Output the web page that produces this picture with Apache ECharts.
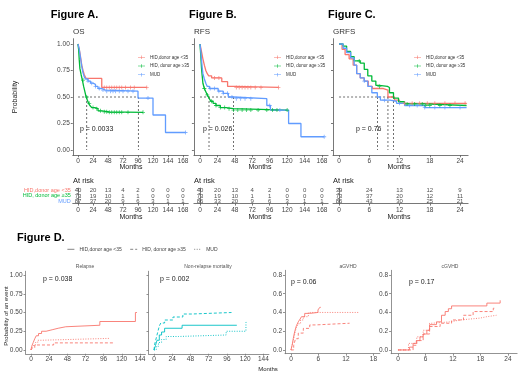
<!DOCTYPE html>
<html>
<head>
<meta charset="utf-8">
<script src="https://cdn.jsdelivr.net/npm/echarts@6/dist/echarts.min.js"></script>
<style>
    html, body { margin: 0; padding: 0; background: #fff; }
    #chart { width: 520px; height: 374px; }
</style>
</head>
<body>
<div id="chart"></div>
<script>
    // groups and colours
    var groups = ['HID,donor age <35', 'HID, donor age ≥35', 'MUD'];
    var groupColors = ['#F8766D', '#00BA38', '#619CFF'];

    // Figure A - OS, [month, survival]
    var osHidYoung = [[0,1],[2,0.95],[4,0.88],[6,0.8],[8,0.75],[10,0.71],[13,0.675],[38,0.59],[110,0.59]];
    var osHidOld = [[0,1],[1,0.95],[2,0.85],[3,0.77],[5,0.71],[7,0.66],[9,0.6],[11,0.55],[13,0.5],[15,0.47],[17,0.44],[19,0.42],[22,0.4],[27,0.39],[32,0.37],[38,0.36],[50,0.355],[104,0.355]];
    var osMud = [[0,1],[2,0.95],[4,0.87],[6,0.79],[8,0.73],[10,0.69],[12,0.67],[16,0.65],[20,0.63],[24,0.62],[28,0.6],[32,0.58],[38,0.565],[44,0.555],[96,0.49],[120,0.33],[140,0.165],[172,0.165]];
    var osCensor = [
        [42, 46, 50, 54, 58, 62, 66, 70, 76, 84, 90, 110],
        [8, 14, 18, 24, 30, 36, 42, 46, 50, 54, 58, 62, 66, 70, 80, 104],
        [16, 22, 28, 34, 40, 46, 52, 56, 60, 66, 72, 80, 88, 112, 172]
    ];
    var osMedians = [14, 96.5];

    // Figure B - RFS
    var rfsHidYoung = [[0,1],[2,0.93],[4,0.86],[6,0.8],[8,0.75],[10,0.72],[12,0.7],[16,0.68],[30,0.645],[38,0.6],[48,0.59],[108,0.59]];
    var rfsHidOld = [[0,1],[1,0.9],[2,0.78],[3,0.7],[4,0.63],[6,0.58],[8,0.55],[10,0.52],[12.4,0.49],[15,0.46],[18,0.44],[22,0.42],[28,0.4],[36,0.39],[46,0.377],[120,0.377]];
    var rfsMud = [[0,1],[1,0.94],[2,0.86],[3,0.78],[4,0.72],[6,0.67],[8,0.63],[10,0.6],[13,0.58],[25,0.555],[32,0.535],[39,0.5],[46,0.484],[92,0.42],[97,0.377],[122,0.25],[139,0.125],[171,0.125]];
    var rfsCensor = [
        [20, 26, 50, 54, 58, 62, 66, 70, 76, 84, 108],
        [6, 10, 16, 22, 28, 34, 40, 46, 52, 58, 64, 70, 80, 92, 100, 106, 120],
        [14, 20, 26, 32, 38, 44, 50, 56, 62, 70, 96, 110, 171]
    ];
    var rfsMedians = [12.4, 46];

    // Figure C - GRFS
    var grfsHidYoung = [[0,1],[0.6,0.95],[1.2,0.9],[2,0.86],[2.8,0.8],[3.5,0.72],[4.2,0.68],[5,0.65],[5.8,0.6],[6.6,0.58],[8.8,0.565],[9.7,0.5],[11,0.47],[12,0.44],[25.3,0.44]];
    var grfsHidOld = [[0,1],[0.8,0.98],[1.5,0.93],[2.3,0.88],[3,0.84],[4.2,0.82],[5,0.76],[5.7,0.7],[6.5,0.65],[7.3,0.61],[8,0.6],[9.6,0.59],[10,0.54],[10.8,0.49],[11.8,0.455],[13,0.435],[17,0.42],[25.3,0.415]];
    var grfsMud = [[0,1],[0.8,0.96],[1.5,0.92],[2.3,0.87],[3,0.8],[3.5,0.72],[4.2,0.68],[5,0.65],[5.7,0.6],[6.5,0.54],[7.6,0.5],[8.2,0.47],[10.1,0.46],[11.4,0.44],[13,0.42],[17,0.4],[25.3,0.395]];
    var grfsCensor = [
        [13, 14.5, 16, 17.5, 19, 21, 23, 25],
        [4, 8, 13.5, 15, 16.5, 17.2, 18, 20, 22],
        [5, 9, 12, 14, 15.5, 17, 19, 21, 24]
    ];
    var grfsMedians = [7.6, 9.7, 10.8];
    var medianLevel = 0.5;

    // numbers at risk
    var riskTimesLong = [0, 24, 48, 72, 96, 120, 144, 168];
    var riskOs = [[40,20,13,4,2,0,0,0], [73,19,10,1,1,0,0,0], [87,37,20,9,6,3,1,1]];
    var riskRfs = [[40,20,13,4,2,0,0,0], [73,19,10,1,1,0,0,0], [86,33,20,9,6,3,1,1]];
    var riskTimesShort = [0, 6, 12, 18, 24];
    var riskGrfs = [[39,24,13,12,9], [73,37,20,12,11], [86,43,30,25,21]];

    // Figure D - cumulative incidence, [month, probability]
    var relapseHidYoung = [[0,0],[1,0.05],[3,0.1],[5,0.15],[7,0.19],[10,0.22],[14,0.25],[20,0.27],[28,0.29],[36,0.31],[46,0.33],[91,0.38],[138,0.5],[140,0.5]];
    var relapseHidOld = [[0,0],[2,0.03],[5,0.067],[30,0.095],[109,0.095]];
    var relapseMud = [[0,0],[1,0.03],[3,0.06],[6,0.1],[9,0.13],[14,0.155],[104,0.155]];
    var nrmHidYoung = [[0,0],[2,0.06],[4,0.13],[7,0.2],[10,0.24],[14,0.29],[37,0.33],[109,0.33]];
    var nrmHidOld = [[0,0],[1,0.08],[3,0.16],[5,0.24],[7,0.32],[9,0.36],[14,0.4],[25,0.44],[38,0.48],[50,0.5],[102,0.5]];
    var nrmMud = [[0,0],[3,0.05],[6,0.1],[10,0.14],[16,0.18],[32,0.2],[95,0.25],[121,0.37],[123,0.37]];
    var agvhdHidYoung = [[0,0],[0.3,0.06],[0.5,0.12],[0.7,0.17],[0.9,0.21],[1.2,0.26],[1.6,0.3],[2,0.33],[2.3,0.355],[3,0.39],[4.1,0.4],[5.9,0.427],[6.3,0.455],[6.5,0.455]];
    var agvhdHidOld = [[0,0],[0.6,0.05],[1,0.12],[1.6,0.18],[2.7,0.23],[4.1,0.267],[5.3,0.285],[12.8,0.285]];
    var agvhdMud = [[0,0],[0.4,0.08],[0.7,0.14],[0.9,0.19],[1.2,0.24],[1.6,0.28],[2.1,0.32],[2.7,0.355],[3.8,0.4],[15,0.4]];
    var cgvhdHidYoung = [[0,0],[1.9,0],[2.5,0.03],[3.3,0.07],[4,0.1],[4.8,0.14],[5.5,0.17],[6.3,0.21],[6.9,0.27],[8.4,0.3],[9.5,0.37],[10.3,0.41],[11,0.44],[11.7,0.47],[19.4,0.5],[22.3,0.53],[22.4,0.53]];
    var cgvhdHidOld = [[0,0],[2.5,0],[3.3,0.05],[4.1,0.1],[5.5,0.17],[6.9,0.25],[9.2,0.285],[11.7,0.32],[14.3,0.37],[16.4,0.41],[20.8,0.445],[21.4,0.445]];
    var cgvhdMud = [[0,0],[1.2,0],[2.3,0.07],[4.1,0.14],[5.5,0.21],[6.9,0.285],[7.5,0.3],[11.4,0.32],[13.6,0.34],[17.9,0.355],[19.4,0.37],[21.5,0.37]];

    var survTicks = [0, 0.25, 0.5, 0.75, 1];
    var gvhdTicks = [0, 0.2, 0.4, 0.6, 0.8];
    var monthTicksLong = [0, 24, 48, 72, 96, 120, 144, 168];
    var monthTicksD = [0, 24, 48, 72, 96, 120, 144];
    var monthTicksA = [0, 6, 12, 18];
    var monthTicksC = [0, 6, 12, 18, 24];

    var FONT = '"Liberation Sans", Arial, sans-serif';
    var plusIcon = 'path://M0,4H10V6H0Z M4,0H6V10H4Z';
    var legendIcon = 'path://M0,4.3H20V5.7H0Z M9.2,0H10.8V10H9.2Z';
    var dLineTypes = ['solid', [3, 2], [1, 1.5]];

    function stepAt(curve, t) {
        var v = curve[0][1];
        for (var i = 0; i < curve.length; i++) {
            if (curve[i][0] <= t) v = curve[i][1];
        }
        return v;
    }

    function valueAxis(grid, min, max, ticks, showLabel, digits, color) {
        return {
            type: 'value', gridIndex: grid, min: min, max: max,
            axisLine: { show: true, onZero: false, lineStyle: { color: color, width: 0.8 } },
            axisTick: { show: true, length: 2, customValues: ticks, lineStyle: { color: color, width: 0.8 } },
            axisLabel: {
                show: showLabel, customValues: ticks, fontSize: 6.5, color: '#444', margin: 3,
                formatter: function (v) { return digits == null ? String(v) : v.toFixed(digits); }
            },
            splitLine: { show: false }
        };
    }

    function riskYAxis(grid, showLabel) {
        return {
            type: 'category', gridIndex: grid, inverse: true,
            data: groups.map(function (g, i) { return { value: g, textStyle: { color: groupColors[i] } }; }),
            axisLine: { show: true, lineStyle: { color: '#666', width: 0.8 } },
            axisTick: { show: true, length: 1.5, lineStyle: { color: '#666', width: 0.8 } },
            axisLabel: { show: showLabel, interval: 0, hideOverlap: false, fontSize: 5.5, margin: 2, lineHeight: 5 },
            splitLine: { show: false }
        };
    }

    function kmSeries(grid, curves, censors) {
        var out = [];
        curves.forEach(function (c, i) {
            out.push({
                type: 'line', name: groups[i], xAxisIndex: grid, yAxisIndex: grid,
                data: c, step: 'end', symbol: 'none', z: 3,
                lineStyle: { width: 1.3, color: groupColors[i] },
                itemStyle: { color: groupColors[i] }
            });
            out.push({
                type: 'scatter', name: groups[i], xAxisIndex: grid, yAxisIndex: grid,
                data: censors[i].map(function (t) { return [t, stepAt(c, t)]; }),
                symbol: plusIcon, symbolSize: 4, z: 4,
                itemStyle: { color: groupColors[i] }
            });
        });
        return out;
    }

    function medianSeries(grid, medians) {
        var style = { color: '#333', width: 0.7, type: [2, 2] };
        var out = [{
            type: 'line', xAxisIndex: grid, yAxisIndex: grid, symbol: 'none', z: 2,
            data: [[0, medianLevel], [Math.max.apply(null, medians), medianLevel]], lineStyle: style
        }];
        medians.forEach(function (m) {
            out.push({
                type: 'line', xAxisIndex: grid, yAxisIndex: grid, symbol: 'none', z: 2,
                data: [[m, medianLevel], [m, 0]], lineStyle: style
            });
        });
        return out;
    }

    function riskSeries(grid, times, rows) {
        var data = [];
        rows.forEach(function (r, i) {
            r.forEach(function (n, j) { data.push([times[j], groups[i], n]); });
        });
        return {
            type: 'scatter', xAxisIndex: grid, yAxisIndex: grid, data: data,
            symbolSize: 1, itemStyle: { color: 'rgba(0,0,0,0)' },
            label: {
                show: true, position: 'inside', fontSize: 6, color: '#222',
                formatter: function (p) { return p.value[2]; }
            }
        };
    }

    function ciSeries(grid, curves, color) {
        return curves.map(function (c, i) {
            return {
                type: 'line', name: groups[i], xAxisIndex: grid, yAxisIndex: grid,
                data: c, step: 'end', symbol: 'none',
                lineStyle: { width: 0.9, color: color, type: dLineTypes[i] },
                itemStyle: { color: color }
            };
        });
    }

    function text(x, y, str, size, opts) {
        opts = opts || {};
        return {
            type: 'text', x: x, y: y, rotation: opts.rotation || 0,
            style: {
                text: str, fill: opts.color || '#222',
                font: (opts.bold ? 'bold ' : '') + size + 'px ' + FONT,
                align: opts.align || 'left', verticalAlign: 'middle'
            }
        };
    }

    function kmLegend(left) {
        return {
            left: left, top: 54.8, orient: 'vertical', padding: 0, itemGap: 3.7,
            itemWidth: 7, itemHeight: 5, icon: legendIcon,
            textStyle: { fontSize: 4.5, color: '#333', lineHeight: 5 },
            data: groups.map(function (g, i) { return { name: g, itemStyle: { color: groupColors[i] } }; })
        };
    }

    var grids = [
        { left: 72.75, top: 38.7, width: 115.5, height: 116.6 },   // A
        { left: 193.9, top: 38.7, width: 134.2, height: 116.6 },   // B
        { left: 333, top: 38.7, width: 135.1, height: 116.6 },     // C
        { left: 72.75, top: 188.1, width: 115.5, height: 15.5 },   // risk A
        { left: 193.9, top: 188.1, width: 134.2, height: 15.5 },   // risk B
        { left: 333, top: 188.1, width: 135.1, height: 15.5 },     // risk C
        { left: 25.5, top: 271.25, width: 119.9, height: 82.5 },   // relapse
        { left: 148.5, top: 271.25, width: 120.4, height: 82.5 },  // NRM
        { left: 285, top: 270.3, width: 94.8, height: 83.4 },      // aGVHD
        { left: 391.1, top: 270.3, width: 126, height: 83.4 }      // cGVHD
    ];
    grids.forEach(function (g) { g.outerBoundsMode = 'none'; g.containLabel = false; });

    var xAxes = [
        valueAxis(0, -8.4, 176.4, monthTicksLong, true, null, '#555'),
        valueAxis(1, -8.4, 176.4, monthTicksLong, true, null, '#555'),
        valueAxis(2, -1.2, 25.6, monthTicksC, true, null, '#555'),
        valueAxis(3, -8.4, 176.4, riskTimesLong, true, null, '#555'),
        valueAxis(4, -8.4, 176.4, riskTimesLong, true, null, '#555'),
        valueAxis(5, -1.2, 25.6, riskTimesShort, true, null, '#555'),
        valueAxis(6, -7.2, 151.2, monthTicksD, true, null, '#777'),
        valueAxis(7, -7.2, 151.2, monthTicksD, true, null, '#777'),
        valueAxis(8, -1.3, 19.4, monthTicksA, true, null, '#777'),
        valueAxis(9, -1.5, 26, monthTicksC, true, null, '#777')
    ];
    var yAxes = [
        valueAxis(0, -0.05, 1.05, survTicks, true, 2, '#555'),
        valueAxis(1, -0.05, 1.05, survTicks, false, 2, '#555'),
        valueAxis(2, -0.05, 1.05, survTicks, false, 2, '#555'),
        riskYAxis(3, true),
        riskYAxis(4, false),
        riskYAxis(5, false),
        valueAxis(6, -0.05, 1.05, survTicks, true, 2, '#777'),
        valueAxis(7, -0.05, 1.05, survTicks, false, 2, '#777'),
        valueAxis(8, -0.04, 0.85, gvhdTicks, true, 1, '#777'),
        valueAxis(9, -0.04, 0.85, gvhdTicks, true, 1, '#777')
    ];
    xAxes.forEach(function (ax, i) { ax.axisLabel.margin = i >= 3 && i <= 5 ? 3.5 : 2; });

    var series = []
        .concat(kmSeries(0, [osHidYoung, osHidOld, osMud], osCensor))
        .concat(kmSeries(1, [rfsHidYoung, rfsHidOld, rfsMud], rfsCensor))
        .concat(kmSeries(2, [grfsHidYoung, grfsHidOld, grfsMud], grfsCensor))
        .concat(medianSeries(0, osMedians))
        .concat(medianSeries(1, rfsMedians))
        .concat(medianSeries(2, grfsMedians))
        .concat([riskSeries(3, riskTimesLong, riskOs), riskSeries(4, riskTimesLong, riskRfs), riskSeries(5, riskTimesShort, riskGrfs)])
        .concat(ciSeries(6, [relapseHidYoung, relapseHidOld, relapseMud], '#F8766D'))
        .concat(ciSeries(7, [nrmHidYoung, nrmHidOld, nrmMud], '#00BFC4'))
        .concat(ciSeries(8, [agvhdHidYoung, agvhdHidOld, agvhdMud], '#F8766D'))
        .concat(ciSeries(9, [cgvhdHidYoung, cgvhdHidOld, cgvhdMud], '#F8766D'));

    var graphics = [
        text(50.7, 15, 'Figure A.', 11, { bold: true, color: '#000' }),
        text(189, 15, 'Figure B.', 11, { bold: true, color: '#000' }),
        text(328, 15, 'Figure C.', 11, { bold: true, color: '#000' }),
        text(73, 32, 'OS', 8, { color: '#333' }),
        text(194, 32, 'RFS', 8, { color: '#333' }),
        text(333, 32, 'GRFS', 8, { color: '#333' }),
        text(15, 97, 'Probability', 7, { rotation: Math.PI / 2, align: 'center' }),
        text(131, 167.5, 'Months', 7, { align: 'center' }),
        text(260, 167.5, 'Months', 7, { align: 'center' }),
        text(399, 167.5, 'Months', 7, { align: 'center' }),
        text(80, 129, 'p = 0.0033', 7),
        text(203, 129, 'p = 0.026', 7),
        text(356, 129, 'p = 0.76', 7),
        text(73, 181, 'At risk', 7.5),
        text(194, 181, 'At risk', 7.5),
        text(333, 181, 'At risk', 7.5),
        text(131, 217.5, 'Months', 7, { align: 'center' }),
        text(260, 217.5, 'Months', 7, { align: 'center' }),
        text(399, 217.5, 'Months', 7, { align: 'center' }),
        text(17, 238, 'Figure D.', 11, { bold: true, color: '#000' }),
        text(85, 267, 'Relapse', 5, { align: 'center', color: '#555' }),
        text(208, 267, 'Non-relapse mortality', 5, { align: 'center', color: '#555' }),
        text(348, 267, 'aGVHD', 5, { align: 'center', color: '#555' }),
        text(450, 267, 'cGVHD', 5, { align: 'center', color: '#555' }),
        text(43, 279, 'p = 0.038', 7),
        text(160, 279, 'p = 0.002', 7),
        text(291, 282, 'p = 0.06', 7),
        text(409, 282, 'p = 0.17', 7),
        text(6, 316, 'Probability of an event', 6, { rotation: Math.PI / 2, align: 'center' }),
        text(268, 369, 'Months', 6, { align: 'center' })
    ];

    var option = {
        animation: false,
        backgroundColor: '#fff',
        textStyle: { fontFamily: FONT },
        grid: grids,
        xAxis: xAxes,
        yAxis: yAxes,
        legend: [
            kmLegend(138),
            kmLegend(274),
            kmLegend(414),
            {
                left: 67, top: 246.8, orient: 'horizontal', padding: 0, itemGap: 8,
                itemWidth: 7, itemHeight: 5,
                textStyle: { fontSize: 5, color: '#444' },
                data: groups.map(function (g, i) {
                    return { name: g, itemStyle: { opacity: 0 }, lineStyle: { color: '#666', width: 0.8, type: dLineTypes[i] } };
                })
            }
        ],
        graphic: graphics,
        series: series
    };

    var chart = echarts.init(document.getElementById('chart'), null, { renderer: 'canvas' });
    chart.setOption(option);
</script>
</body>
</html>
